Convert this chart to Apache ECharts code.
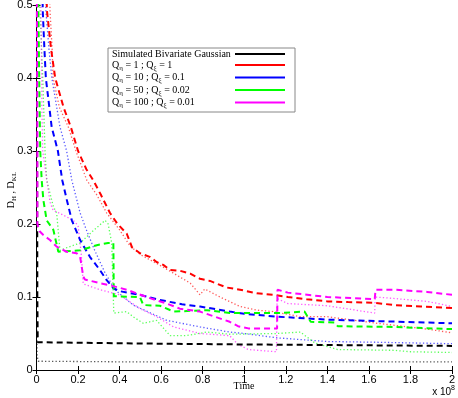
<!DOCTYPE html>
<html>
<head>
<meta charset="utf-8">
<script src="https://cdn.jsdelivr.net/npm/echarts@6/dist/echarts.min.js"></script>
<style>
  html, body { margin: 0; padding: 0; background: #fff; }
  #chart { width: 458px; height: 398px; }
</style>
</head>
<body>
<div id="chart"></div>
<script>
// x in units of 1e8, y = D_H / D_KL
const xTicks = [0, 0.2, 0.4, 0.6, 0.8, 1, 1.2, 1.4, 1.6, 1.8, 2]
const yTicks = [0, 0.1, 0.2, 0.3, 0.4, 0.5]

const legendNames = ['Simulated Bivariate Gaussian', 'Q1', 'Q10', 'Q50', 'Q100']
const legendLabels = [
  '{n|Simulated Bivariate Gaussian}',
  '{n|Q}{s|η}{n| = 1 ; Q}{s|ξ}{n| = 1}',
  '{n|Q}{s|η}{n| = 10 ; Q}{s|ξ}{n| = 0.1}',
  '{n|Q}{s|η}{n| = 50 ; Q}{s|ξ}{n| = 0.02}',
  '{n|Q}{s|η}{n| = 100 ; Q}{s|ξ}{n| = 0.01}'
]

// dashed = D_H, dotted = D_KL
const blackDashed = [[0.002,0.56],[0.003,0.3],[0.004,0.1],[0.006,0.038],[0.3,0.037],[0.6,0.036],[1.0,0.035],[1.5,0.034],[2.0,0.033]]
const blackDotted = [[0.001,0.06],[0.003,0.02],[0.008,0.012],[0.5,0.011],[2.0,0.011]]

const redDashed = [[0.045,0.56],[0.05,0.493],[0.07,0.44],[0.09,0.4],[0.13,0.36],[0.165,0.333],[0.2,0.3],[0.24,0.275],[0.273,0.26],[0.31,0.24],[0.354,0.215],[0.39,0.2],[0.434,0.187],[0.46,0.168],[0.498,0.16],[0.545,0.155],[0.578,0.148],[0.61,0.144],[0.643,0.137],[0.69,0.136],[0.74,0.132],[0.787,0.125],[0.835,0.122],[0.915,0.113],[0.98,0.11],[1.06,0.105],[1.14,0.103],[1.21,0.1],[1.3,0.097],[1.4,0.094],[1.5,0.093],[1.63,0.092],[1.72,0.089],[1.85,0.087],[2.0,0.085]]
const redDotted = [[0.06,0.56],[0.065,0.493],[0.075,0.44],[0.08,0.4],[0.11,0.36],[0.153,0.333],[0.19,0.3],[0.242,0.26],[0.29,0.24],[0.338,0.215],[0.4,0.192],[0.45,0.17],[0.5,0.158],[0.578,0.146],[0.657,0.133],[0.74,0.119],[0.787,0.103],[0.81,0.111],[0.883,0.1],[0.98,0.087],[1.06,0.082],[1.14,0.08],[1.27,0.073],[1.4,0.073],[1.64,0.064],[1.88,0.056],[2.0,0.051]]

const blueDashed = [[0.028,0.56],[0.03,0.493],[0.038,0.44],[0.045,0.4],[0.073,0.333],[0.103,0.3],[0.124,0.26],[0.146,0.233],[0.17,0.205],[0.21,0.178],[0.257,0.155],[0.305,0.137],[0.338,0.123],[0.37,0.112],[0.40,0.108],[0.498,0.103],[0.594,0.096],[0.7,0.09],[0.787,0.087],[0.93,0.08],[1.0,0.077],[1.16,0.073],[1.4,0.069],[1.64,0.067],[2.0,0.064]]
const blueDotted = [[0.042,0.56],[0.045,0.493],[0.06,0.44],[0.074,0.4],[0.113,0.333],[0.145,0.3],[0.17,0.26],[0.21,0.215],[0.24,0.192],[0.28,0.164],[0.33,0.133],[0.378,0.11],[0.465,0.089],[0.55,0.078],[0.627,0.068],[0.787,0.059],[0.93,0.052],[1.0,0.05],[1.16,0.044],[1.21,0.043],[1.4,0.039],[1.64,0.038],[2.0,0.036]]

const greenDashed = [[0.008,0.56],[0.009,0.493],[0.013,0.4],[0.018,0.3],[0.025,0.26],[0.033,0.233],[0.049,0.205],[0.081,0.192],[0.105,0.162],[0.21,0.164],[0.29,0.171],[0.345,0.174],[0.37,0.174],[0.372,0.101],[0.498,0.1],[0.514,0.089],[0.594,0.088],[0.66,0.08],[0.82,0.082],[0.93,0.078],[1.16,0.078],[1.29,0.08],[1.32,0.066],[1.435,0.065],[1.45,0.06],[1.72,0.059],[2.0,0.056]]
const greenDotted = [[0.015,0.56],[0.017,0.493],[0.03,0.4],[0.041,0.3],[0.049,0.26],[0.065,0.242],[0.081,0.224],[0.097,0.215],[0.113,0.164],[0.15,0.168],[0.21,0.174],[0.27,0.19],[0.33,0.205],[0.345,0.2],[0.362,0.174],[0.372,0.078],[0.434,0.08],[0.465,0.073],[0.514,0.064],[0.578,0.068],[0.643,0.047],[0.72,0.047],[0.82,0.052],[0.93,0.049],[1.16,0.05],[1.27,0.052],[1.34,0.037],[1.45,0.028],[1.72,0.027],[1.8,0.025],[2.0,0.024]]

const magentaDashed = [[0.001,0.56],[0.002,0.493],[0.004,0.3],[0.004,0.2],[0.015,0.19],[0.033,0.185],[0.065,0.178],[0.097,0.169],[0.145,0.162],[0.193,0.16],[0.21,0.155],[0.225,0.128],[0.233,0.124],[0.305,0.119],[0.354,0.116],[0.434,0.11],[0.53,0.1],[0.627,0.091],[0.69,0.084],[0.787,0.08],[0.93,0.066],[0.97,0.06],[1.02,0.057],[1.158,0.057],[1.16,0.11],[1.21,0.106],[1.4,0.1],[1.628,0.097],[1.632,0.11],[1.72,0.11],[1.88,0.107],[2.0,0.103]]
const magentaDotted = [[0.02,0.56],[0.022,0.493],[0.025,0.4],[0.026,0.36],[0.03,0.3],[0.05,0.26],[0.065,0.23],[0.08,0.219],[0.13,0.212],[0.177,0.205],[0.2,0.198],[0.215,0.16],[0.225,0.118],[0.305,0.11],[0.4,0.103],[0.498,0.084],[0.578,0.073],[0.66,0.059],[0.787,0.05],[0.93,0.047],[0.97,0.035],[1.02,0.028],[1.155,0.025],[1.158,0.098],[1.21,0.091],[1.4,0.088],[1.628,0.078],[1.63,0.1],[1.72,0.098],[1.88,0.094],[1.95,0.09],[2.0,0.087]]

const chart = echarts.init(document.getElementById('chart'))

function dashed(name, color, data) {
  return {
    name: name, type: 'line', data: data, symbol: 'none', z: 3,
    itemStyle: { color: color },
    lineStyle: { color: color, width: 2, type: [6, 4] }
  }
}
function dotted(name, color, data) {
  return {
    name: name, type: 'line', data: data, symbol: 'none', z: 2,
    itemStyle: { color: color },
    lineStyle: { color: color, width: 1.3, type: [1.3, 2.2], opacity: 0.65 }
  }
}

const axisCommon = {
  type: 'value',
  axisLine: { show: true, lineStyle: { color: '#000', width: 1 } },
  axisTick: { show: true, inside: true, length: 4, lineStyle: { color: '#000' } },
  splitLine: { show: false }
}

const legendRich = {
  n: { fontFamily: 'Liberation Serif', fontSize: 10, lineHeight: 13, color: '#000', verticalAlign: 'middle', align: 'left' },
  s: { fontFamily: 'Liberation Serif', fontSize: 7, lineHeight: 7, color: '#000', verticalAlign: 'bottom', align: 'left' }
}

const option = {
  animation: false,
  backgroundColor: '#fff',
  grid: { left: 36.5, right: 6, top: 5, bottom: 28, outerBoundsMode: 'none' },
  xAxis: [
    Object.assign({}, axisCommon, {
      min: 0, max: 2, interval: 0.2, position: 'bottom',
      axisLabel: { margin: 4, fontSize: 11, fontFamily: 'Liberation Sans', color: '#000' }
    }),
    Object.assign({}, axisCommon, {
      min: 0, max: 2, interval: 0.2, position: 'top', axisLabel: { show: false }
    })
  ],
  yAxis: [
    Object.assign({}, axisCommon, {
      min: 0, max: 0.5, interval: 0.1, position: 'left',
      axisLabel: { margin: 4, fontSize: 11, fontFamily: 'Liberation Sans', color: '#000' }
    }),
    Object.assign({}, axisCommon, {
      min: 0, max: 0.5, interval: 0.1, position: 'right', axisLabel: { show: false }
    })
  ],
  legend: {
    orient: 'vertical', left: 108, top: 48, align: 'right',
    backgroundColor: '#fff', borderColor: '#888', borderWidth: 1,
    padding: [1, 10, 3, 4], itemGap: 1, itemWidth: 50, itemHeight: 2, icon: 'rect',
    data: legendNames,
    formatter: name => legendLabels[legendNames.indexOf(name)],
    textStyle: { width: 118, align: 'left', rich: legendRich }
  },
  graphic: [
    {
      type: 'text', x: 244, y: 386,
      style: {
        text: 'Time', align: 'center', verticalAlign: 'middle',
        fontFamily: 'Liberation Serif', fontSize: 10, fill: '#000'
      }
    },
    {
      type: 'text', x: 11, y: 190, rotation: Math.PI / 2,
      style: {
        text: '{n|D}{s|H}{n| , D}{s|KL}', align: 'center', verticalAlign: 'middle',
        rich: {
          n: { fontFamily: 'Liberation Serif', fontSize: 10, lineHeight: 14, fill: '#000', verticalAlign: 'middle' },
          s: { fontFamily: 'Liberation Serif', fontSize: 7, lineHeight: 7, fill: '#000', verticalAlign: 'bottom' }
        }
      }
    },
    {
      type: 'text', right: 3, top: 385,
      style: {
        text: '{n|x 10}{p|8}',
        rich: {
          n: { fontFamily: 'Liberation Sans', fontSize: 10, lineHeight: 12, fill: '#000', verticalAlign: 'bottom' },
          p: { fontFamily: 'Liberation Sans', fontSize: 7, lineHeight: 7, fill: '#000', verticalAlign: 'top' }
        }
      }
    }
  ],
  series: [
    dotted('black dotted', '#000', blackDotted),
    dashed(legendNames[0], '#000', blackDashed),
    dotted('red dotted', '#ff0000', redDotted),
    dashed(legendNames[1], '#ff0000', redDashed),
    dotted('blue dotted', '#0000ff', blueDotted),
    dashed(legendNames[2], '#0000ff', blueDashed),
    dotted('green dotted', '#00ff00', greenDotted),
    dashed(legendNames[3], '#00ff00', greenDashed),
    dotted('magenta dotted', '#ff00ff', magentaDotted),
    dashed(legendNames[4], '#ff00ff', magentaDashed)
  ]
}

chart.setOption(option)
</script>
</body>
</html>
